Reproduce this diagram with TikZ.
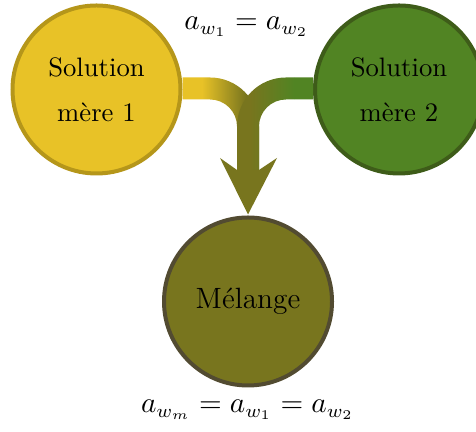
\documentclass[tikz,border=0pt]{standalone}
\usepackage{tikz}
\usetikzlibrary{calc}
\definecolor{jaune}{HTML}{E8C227}
\definecolor{jauneb}{HTML}{B5961A}
\definecolor{vert}{HTML}{518423}
\definecolor{vertb}{HTML}{3E5C19}
\definecolor{olive}{HTML}{78751E}
\definecolor{oliveb}{HTML}{524B31}
\tikzset{
	bulle/.style={circle, line width=1.5pt, minimum size=63pt, inner sep=0pt, align=center, text=black},
	egalite/.style={font=\fontsize{10.5}{12}\selectfont},
}

\begin{document}
\begin{tikzpicture}[x=0.375pt, y=0.375pt]
		%%%%% START %%%%%
		\useasboundingbox (0, 0) rectangle (476, 432);
		
		\node[bulle, fill=jaune, draw=jauneb] (sol1) at (96.5, 342.5) {Solution\\[5pt]mère 1};
		\node[bulle, fill=vert, draw=vertb] (sol2) at (399, 342.5) {Solution\\[5pt]mère 2};
		\node[bulle, fill=olive, draw=oliveb, font=\fontsize{11}{13}\selectfont] (mix) at (248, 130.5) {Mélange};
		
		% bande jaune
		\begin{scope}
			\clip ($(sol1.east)+(0, 12)$) -- (210, 354.5) arc[start angle=90, end angle=0, radius=49] -- (259, 262)
				-- (237, 262) -- (237, 305.5) arc[start angle=0, end angle=90, radius=27] -- ($(sol1.east)+(0, -10)$) -- cycle;
			\fill[jaune] (170, 250) rectangle (202, 360);
			\shade[left color=jaune, right color=olive] (202, 250) rectangle (246, 360);
			\fill[olive] (246, 250) rectangle (262, 360);
		\end{scope}
		
		% bande verte
		\begin{scope}
			\clip ($(sol2.west)+(0, 12)$) -- (286, 354.5) arc[start angle=90, end angle=180, radius=49] -- (237, 262)
				-- (259, 262) -- (259, 305.5) arc[start angle=180, end angle=90, radius=27] -- ($(sol2.west)+(0, -10)$) -- cycle;
			\fill[olive] (234, 250) rectangle (250, 360);
			\shade[left color=olive, right color=vert] (250, 250) rectangle (294, 360);
			\fill[vert] (294, 250) rectangle (326, 360);
		\end{scope}
		
		% pointe
		\coordinate (tip) at ($(mix.north)+(0, 1)$);
		\fill[olive] (237, 262) -- (220, 274) -- (tip) -- (277, 274) -- (259, 262) -- cycle;
		
		\node[egalite] (egal1) at (246.5, 405) {$a_{w_1} = a_{w_2}$};
		\node[egalite] (egal2) at (247.5, 22) {$a_{w_m} = a_{w_1} = a_{w_2}$};
		
		%%%%% END %%%%%
	\end{tikzpicture}
\end{document}
